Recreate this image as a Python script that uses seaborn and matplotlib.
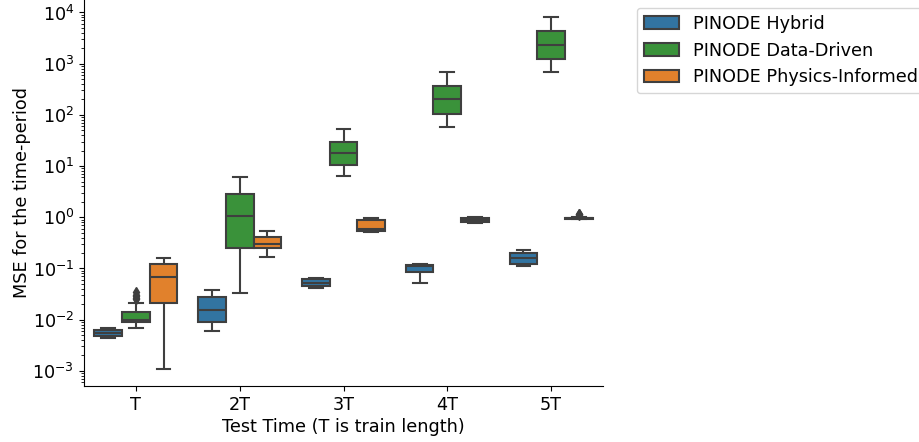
import matplotlib
matplotlib.use("Agg")
import matplotlib.pyplot as plt
import seaborn as sns
import pandas as pd

times = ["T", "2T", "3T", "4T", "5T"]
methods = ["PINODE Hybrid", "PINODE Data-Driven", "PINODE Physics-Informed"]
colors = ["#1f77b4", "#2ca02c", "#ff7f0e"]

hybrid = [
    [0.0043, 0.0048, 0.0055, 0.0063, 0.0068],
    [0.0059, 0.0089, 0.0155, 0.028, 0.0385],
    [0.042, 0.046, 0.053, 0.062, 0.066],
    [0.053, 0.084, 0.112, 0.119, 0.124],
    [0.1135, 0.122, 0.160, 0.204, 0.233],
]
data_driven = [
    [0.0070, 0.0075, 0.0080, 0.0084, 0.0087, 0.0088, 0.0089, 0.0092, 0.0095,
     0.0097, 0.0098, 0.0099, 0.0100, 0.0105, 0.0112, 0.0120, 0.0130, 0.0138,
     0.0143, 0.0215, 0.025, 0.027, 0.029, 0.031, 0.034],
    [0.0337, 0.255, 1.07, 2.89, 6.2],
    [6.4, 10.5, 18.3, 30.0, 53.8],
    [58.0, 102.0, 202.0, 363.0, 679.0],
    [698.0, 1236.0, 2350.0, 4355.0, 8060.0],
]
physics = [
    [0.0011, 0.0215, 0.067, 0.121, 0.163],
    [0.17, 0.255, 0.297, 0.418, 0.54],
    [0.516, 0.54, 0.59, 0.885, 0.955],
    [0.77, 0.80, 0.88, 0.97, 1.0],
    [0.91, 0.915, 0.92, 0.925, 0.93, 0.94, 0.945, 0.95, 0.96, 0.97, 0.975,
     0.98, 0.99, 1.01, 1.10, 1.14, 1.18],
]

rows = []
for m, series in zip(methods, [hybrid, data_driven, physics]):
    for t, vals in zip(times, series):
        for v in vals:
            rows.append({"time": t, "method": m, "mse": v})
df = pd.DataFrame(rows)

plt.rcParams["font.family"] = ["DejaVu Sans"]
fs = 12.7
fig = plt.figure(figsize=(9.2, 4.42), dpi=100)
ax = fig.add_axes([84 / 920, 1 - 386 / 442, 519 / 920, 386 / 442])

line_c = "#3f3f3f"
sns.boxplot(data=df, x="time", y="mse", hue="method", order=times,
            hue_order=methods, palette=colors, ax=ax, linewidth=1.5,
            linecolor=line_c,
            flierprops=dict(marker="d", markerfacecolor=line_c,
                            markeredgecolor=line_c, markersize=5))
ax.set_yscale("log")

ax.set_ylim(10 ** -3.295, 10 ** 4.244)
ax.set_xlim(-0.5, 4.5)
ax.set_xlabel("Test Time (T is train length)", fontsize=fs, labelpad=3)
ax.set_ylabel("MSE for the time-period", fontsize=fs, labelpad=1)
ax.tick_params(axis="both", which="major", labelsize=fs)
sns.despine(ax=ax)
ax.legend(loc="upper left", bbox_to_anchor=(1.065, 0.98), borderaxespad=0,
          fontsize=fs, title=None)

fig.savefig("out.png", dpi=100)
